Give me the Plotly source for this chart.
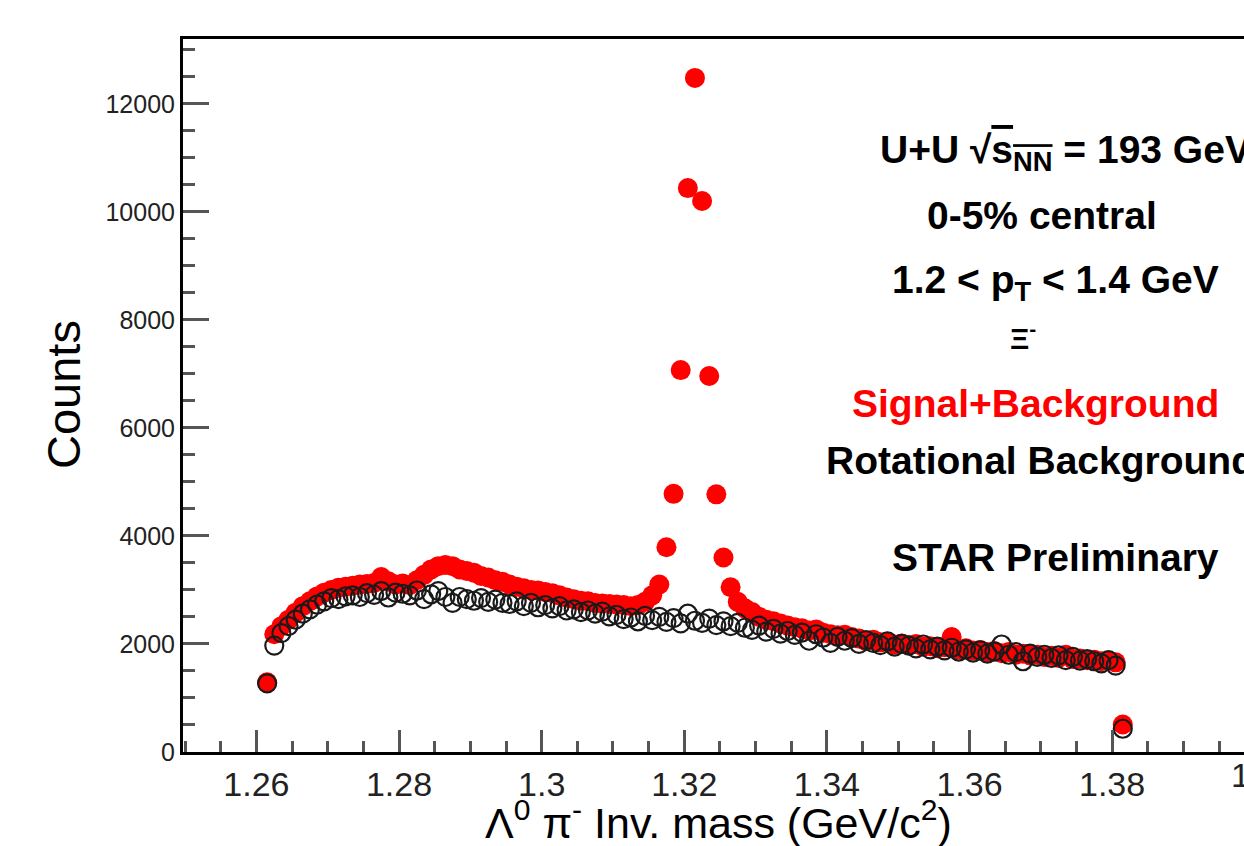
import plotly.graph_objects as go

# ---------------- data ----------------
mass_bins = [round(1.2615 + 0.001 * i, 4) for i in range(121)]

signal_plus_bkg = [
    1290, 2180, 2330, 2450, 2580, 2700, 2790, 2880, 2950, 3000,
    3040, 3060, 3080, 3100, 3110, 3130, 3240, 3160, 3100, 3120,
    3090, 3180, 3280, 3380, 3440, 3460, 3440, 3380, 3350, 3320,
    3260, 3230, 3180, 3150, 3100, 3060, 3030, 3000, 2990, 2960,
    2940, 2900, 2860, 2830, 2800, 2790, 2760, 2750, 2740, 2730,
    2720, 2700, 2720, 2780, 2900, 3100, 3790, 4780, 7070, 10440,
    12480, 10200, 6960, 4770, 3600, 3050, 2780, 2660, 2590, 2500,
    2450, 2420, 2380, 2340, 2310, 2290, 2250, 2270, 2210, 2180,
    2160, 2170, 2130, 2100, 2050, 2080, 2030, 2040, 1990, 2010,
    1980, 2000, 1950, 1960, 1920, 1940, 2130, 1900, 1920, 1880,
    1890, 1850, 1870, 1830, 1850, 1800, 1820, 1790, 1800, 1760,
    1780, 1740, 1800, 1720, 1730, 1700, 1710, 1680, 1690, 1660,
    510,
]

rotational_bkg = [
    1270, 1970, 2200, 2330, 2450, 2560, 2640, 2730, 2790, 2850,
    2830, 2880, 2900, 2870, 2940, 2910, 2980, 2860, 2950, 2930,
    2900, 2990, 2830, 2920, 2980, 2870, 2760, 2870, 2830, 2800,
    2850, 2780, 2820, 2760, 2740, 2790, 2700, 2760, 2680, 2720,
    2660, 2700, 2620, 2640, 2590, 2620, 2560, 2600, 2510, 2540,
    2460, 2490, 2420, 2520, 2440, 2500, 2410, 2480, 2380, 2560,
    2430, 2390, 2470, 2350, 2420, 2330, 2390, 2300, 2260, 2340,
    2230, 2280, 2190, 2240, 2170, 2210, 2060, 2180, 2120, 2020,
    2130, 2060, 2110, 2000, 2070, 2020, 1980, 2050, 1950, 2000,
    1970, 1920, 1990, 1900, 1950, 1880, 1930, 1860, 1900, 1840,
    1880, 1820, 1860, 1990, 1800, 1850, 1680, 1820, 1760, 1800,
    1740, 1790, 1700, 1760, 1690, 1720, 1680, 1640, 1700, 1600,
    430,
]

x_tick_vals = [1.26, 1.28, 1.30, 1.32, 1.34, 1.36, 1.38]
x_tick_text = ["1.26", "1.28", "1.3", "1.32", "1.34", "1.36", "1.38"]
y_tick_vals = [0, 2000, 4000, 6000, 8000, 10000, 12000]
y_tick_text = ["0", "2000", "4000", "6000", "8000", "10000", "12000"]

RED = "#ff0000"
FONT = "Liberation Sans, Arial, Helvetica, sans-serif"

# ---------------- layout geometry (pixels) ----------------
W, H = 1244, 846
L, R, T, B = 183, 0, 39, 94
PW, PH = W - L - R, H - T - B
XMIN, XMAX = 1.2497, 1.3985


def px_x(px):
    return (px - L) / PW


def px_y(py):
    return (H - B - py) / PH


fig = go.Figure()

fig.add_trace(go.Scatter(
    x=mass_bins, y=signal_plus_bkg, mode="markers", name="Signal+Background",
    marker=dict(symbol="circle", size=20, color=RED, line=dict(width=0)),
))
fig.add_trace(go.Scatter(
    x=mass_bins, y=rotational_bkg, mode="markers", name="Rotational Background",
    marker=dict(symbol="circle-open", size=18, color="#1a1a1a", line=dict(width=2.2)),
))

axis_common = dict(
    showgrid=False, zeroline=False, showline=True, linecolor="black", linewidth=3,
    ticks="inside", tickcolor="#555555", tickwidth=2.5,
    tickfont=dict(family=FONT, color="#222222"),
)

fig.update_xaxes(
    **axis_common,
    range=[XMIN, XMAX], autorange=False,
    tickvals=x_tick_vals, ticktext=x_tick_text, ticklen=22,
    tickfont_size=34, mirror=True,
    minor=dict(dtick=0.005, tick0=1.25, ticks="inside", ticklen=11,
               tickcolor="#555555", tickwidth=2.5),
)
fig.update_yaxes(
    **axis_common,
    range=[0, 13200], autorange=False,
    tickvals=y_tick_vals, ticktext=y_tick_text, ticklen=26,
    tickfont_size=25,
    minor=dict(dtick=500, tick0=0, ticks="inside", ticklen=12,
               tickcolor="#555555", tickwidth=2.5),
)

ann = []
# axis titles
ann.append(dict(text="Counts", x=px_x(63), y=px_y(395), textangle=-90,
                font=dict(size=47, family=FONT, color="black")))
ann.append(dict(text="Λ<sup>0</sup> π<sup>-</sup> Inv. mass (GeV/c<sup>2</sup>)",
                x=px_x(718), y=px_y(820),
                font=dict(size=43, family=FONT, color="black")))
# partially visible 1.4 tick label (axis continues past the picture edge)
ann.append(dict(text="1.4", x=px_x(L + (1.40 - XMIN) * PW / (XMAX - XMIN)),
                y=px_y(775), font=dict(size=34, family=FONT, color="#222222")))

bold = dict(size=39, family=FONT, color="black")
labels = [
    ("<b>U+U √<span style='text-decoration:overline'>s<sub>NN</sub></span> = 193 GeV</b>", 878, 152, bold),
    ("<b>0-5% central</b>", 925, 215, bold),
    ("<b>1.2 < p<sub>T</sub> < 1.4 GeV</b>", 890, 282, bold),
    ("<b>Ξ<sup>-</sup></b>", 1008, 336, dict(size=30, family=FONT, color="black")),
    ("<b>Signal+Background</b>", 850, 403, dict(size=39, family=FONT, color=RED)),
    ("<b>Rotational Background</b>", 824, 460, bold),
    ("<b>STAR Preliminary</b>", 890, 557, bold),
]
for txt, lx, cy, f in labels:
    ann.append(dict(text=txt, x=px_x(lx), y=px_y(cy), xanchor="left", font=f))

for a in ann:
    a.setdefault("xanchor", "center")
    a.update(xref="paper", yref="paper", showarrow=False, yanchor="middle")

fig.update_layout(
    width=W, height=H, autosize=False,
    margin=dict(l=L, r=R, t=T, b=B, pad=0),
    paper_bgcolor="white", plot_bgcolor="white",
    showlegend=False, annotations=ann,
    font=dict(family=FONT),
)

fig.write_html("out.html")
